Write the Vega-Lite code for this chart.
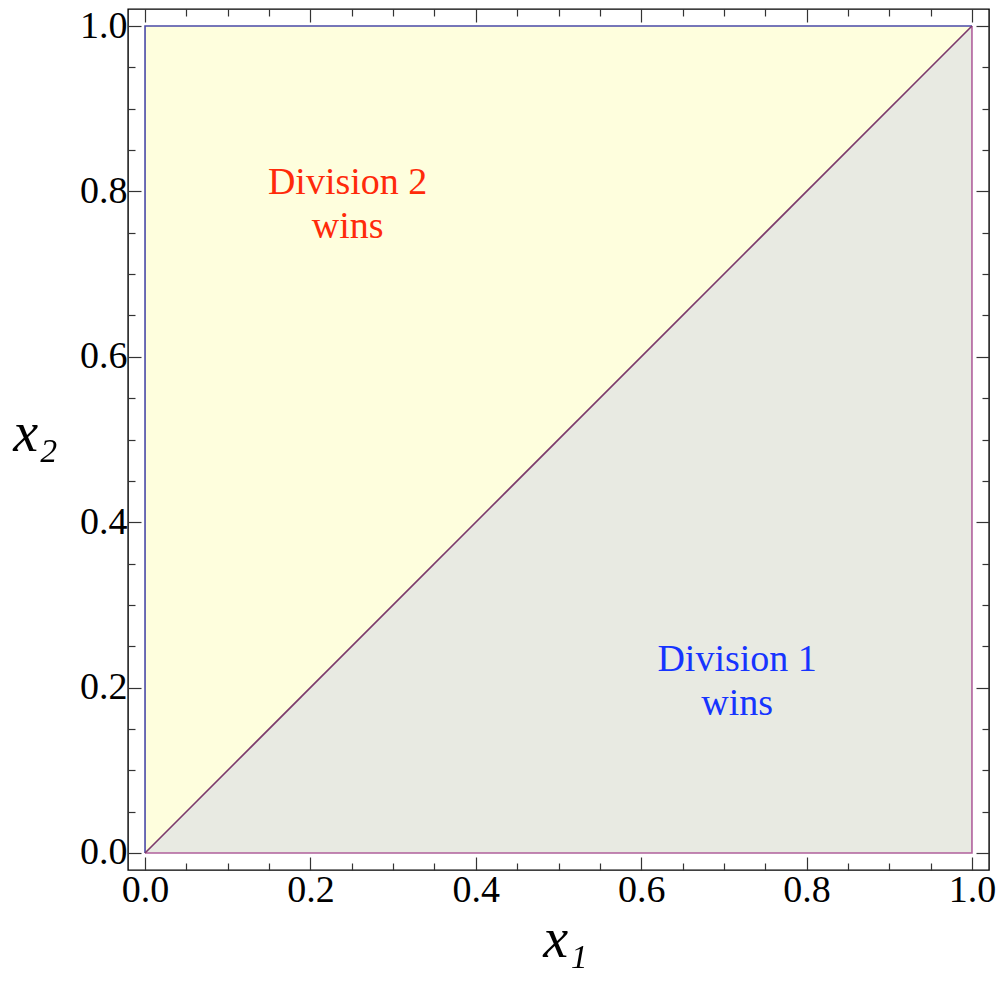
{
  "$schema": "https://vega.github.io/schema/vega-lite/v6.json",
  "width": 861,
  "height": 861,
  "autosize": "none",
  "padding": {"left": 128, "top": 9, "right": 14, "bottom": 111},
  "background": "white",
  "config": {
    "view": {"stroke": "black", "strokeWidth": 1.4},
    "axis": {
      "domain": false,
      "grid": false,
      "labelFont": "Liberation Serif",
      "labelFontSize": 38,
      "labelColor": "black",
      "labelOverlap": false,
      "labelFlush": false,
      "tickColor": "#333",
      "tickWidth": 1.2,
      "titleFont": "Liberation Serif",
      "titleFontSize": 56,
      "titleFontWeight": "normal",
      "titleFontStyle": "italic",
      "titleColor": "black",
      "zindex": 2
    }
  },
  "datasets": {
    "regions": [
      {"region": "x2 wins", "x": 0, "lo": 0, "hi": 1},
      {"region": "x2 wins", "x": 1, "lo": 1, "hi": 1},
      {"region": "x1 wins", "x": 0, "lo": 0, "hi": 0},
      {"region": "x1 wins", "x": 1, "lo": 0, "hi": 1}
    ],
    "edges": [
      {"edge": "a", "i": 0, "x": 0, "y": 0},
      {"edge": "a", "i": 1, "x": 0, "y": 1},
      {"edge": "a", "i": 2, "x": 1, "y": 1},
      {"edge": "b", "i": 0, "x": 0, "y": 0},
      {"edge": "b", "i": 1, "x": 1, "y": 0},
      {"edge": "b", "i": 2, "x": 1, "y": 1},
      {"edge": "c", "i": 0, "x": 0, "y": 0},
      {"edge": "c", "i": 1, "x": 1, "y": 1}
    ],
    "notes": [
      {"x": 0.245, "y": 0.81, "label": "Division 2\nwins", "who": "2"},
      {"x": 0.716, "y": 0.233, "label": "Division 1\nwins", "who": "1"}
    ]
  },
  "resolve": {
    "axis": {"x": "independent", "y": "independent"},
    "scale": {"color": "independent"}
  },
  "layer": [
    {
      "data": {"name": "regions"},
      "mark": {"type": "area", "opacity": 1},
      "encoding": {
        "x": {
          "field": "x", "type": "quantitative",
          "scale": {"domain": [-0.0206, 1.0206], "nice": false, "zero": false},
          "axis": {
            "orient": "bottom",
            "values": [0, 0.05, 0.1, 0.15, 0.2, 0.25, 0.3, 0.35, 0.4, 0.45, 0.5, 0.55, 0.6, 0.65, 0.7, 0.75, 0.8, 0.85, 0.9, 0.95, 1],
            "labelExpr": "abs(datum.value * 5 - round(datum.value * 5)) < 1e-6 ? format(datum.value, '.1f') : ''",
            "tickSize": {"condition": {"test": "abs(datum.value * 5 - round(datum.value * 5)) < 1e-6", "value": -13}, "value": -7},
            "labelPadding": 14,
            "title": "x₁",
            "titleAnchor": "middle",
            "titleBaseline": "alphabetic",
            "titleX": 437,
            "titleY": 86
          }
        },
        "y": {
          "field": "hi", "type": "quantitative", "stack": null,
          "scale": {"domain": [-0.0206, 1.0206], "nice": false, "zero": false},
          "axis": {
            "orient": "left",
            "values": [0, 0.05, 0.1, 0.15, 0.2, 0.25, 0.3, 0.35, 0.4, 0.45, 0.5, 0.55, 0.6, 0.65, 0.7, 0.75, 0.8, 0.85, 0.9, 0.95, 1],
            "labelExpr": "abs(datum.value * 5 - round(datum.value * 5)) < 1e-6 ? format(datum.value, '.1f') : ''",
            "tickSize": {"condition": {"test": "abs(datum.value * 5 - round(datum.value * 5)) < 1e-6", "value": -13}, "value": -7},
            "labelPadding": 14,
            "title": "x₂",
            "titleAngle": 0,
            "titleAlign": "center",
            "titleBaseline": "alphabetic",
            "titleX": -93,
            "titleY": 441
          }
        },
        "y2": {"field": "lo"},
        "color": {
          "field": "region", "type": "nominal",
          "scale": {"domain": ["x2 wins", "x1 wins"], "range": ["#fefedd", "#e8eae2"]},
          "legend": null
        }
      }
    },
    {
      "data": {"name": "edges"},
      "mark": {"type": "line", "strokeWidth": 1.6},
      "encoding": {
        "x": {
          "field": "x", "type": "quantitative",
          "scale": {"domain": [-0.0206, 1.0206], "nice": false, "zero": false},
          "axis": {
            "orient": "top",
            "values": [0, 0.05, 0.1, 0.15, 0.2, 0.25, 0.3, 0.35, 0.4, 0.45, 0.5, 0.55, 0.6, 0.65, 0.7, 0.75, 0.8, 0.85, 0.9, 0.95, 1],
            "labels": false,
            "tickSize": {"condition": {"test": "abs(datum.value * 5 - round(datum.value * 5)) < 1e-6", "value": -13}, "value": -7},
            "title": null
          }
        },
        "y": {
          "field": "y", "type": "quantitative",
          "scale": {"domain": [-0.0206, 1.0206], "nice": false, "zero": false},
          "axis": {
            "orient": "right",
            "values": [0, 0.05, 0.1, 0.15, 0.2, 0.25, 0.3, 0.35, 0.4, 0.45, 0.5, 0.55, 0.6, 0.65, 0.7, 0.75, 0.8, 0.85, 0.9, 0.95, 1],
            "labels": false,
            "tickSize": {"condition": {"test": "abs(datum.value * 5 - round(datum.value * 5)) < 1e-6", "value": -13}, "value": -7},
            "title": null
          }
        },
        "order": {"field": "i", "type": "quantitative"},
        "color": {
          "field": "edge", "type": "nominal",
          "scale": {"domain": ["a", "b", "c"], "range": ["#4a4aa6", "#b0609c", "#7c3a6c"]},
          "legend": null
        }
      }
    },
    {
      "data": {"name": "notes"},
      "mark": {"type": "text", "font": "Liberation Serif", "fontSize": 38, "lineBreak": "\n", "lineHeight": 44, "align": "center", "baseline": "middle"},
      "encoding": {
        "x": {"field": "x", "type": "quantitative", "axis": null},
        "y": {"field": "y", "type": "quantitative", "axis": null},
        "text": {"field": "label"},
        "color": {
          "field": "who", "type": "nominal",
          "scale": {"domain": ["2", "1"], "range": ["#ff2a0a", "#1634ff"]},
          "legend": null
        }
      }
    }
  ]
}
